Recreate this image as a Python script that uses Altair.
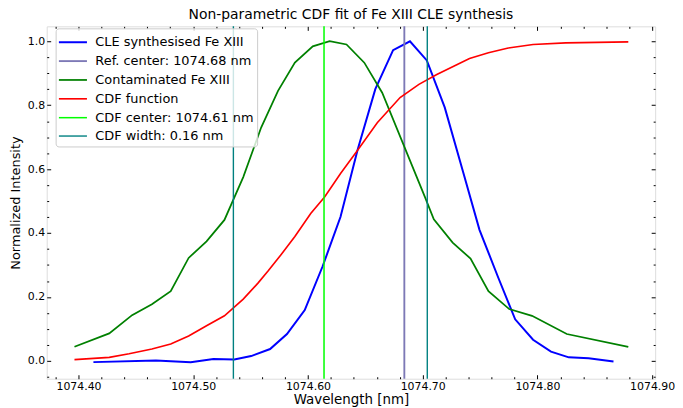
import altair as alt
import pandas as pd

# ---------------- data ----------------
cle_x = [1074.413, 1074.4675, 1074.4978, 1074.5176, 1074.5358, 1074.5505, 1074.567,
         1074.5817, 1074.5972, 1074.6128, 1074.6284, 1074.6431, 1074.6587, 1074.6742,
         1074.6889, 1074.7036, 1074.7192, 1074.7356, 1074.7495, 1074.7659, 1074.7806,
         1074.7962, 1074.8118, 1074.8273, 1074.8446, 1074.8663]
cle_y = [-0.004, 0.001, -0.004, 0.006, 0.004, 0.015, 0.037,
         0.084, 0.159, 0.296, 0.451, 0.658, 0.850, 0.972,
         1.000, 0.940, 0.793, 0.586, 0.410, 0.260, 0.130,
         0.066, 0.029, 0.011, 0.008, -0.002]

cont_x = [1074.3965, 1074.4268, 1074.4467, 1074.4640, 1074.4804, 1074.4960, 1074.5116,
          1074.5272, 1074.5436, 1074.5592, 1074.5739, 1074.5886, 1074.6042, 1074.6189,
          1074.6336, 1074.6491, 1074.6647, 1074.7019, 1074.7097, 1074.7261, 1074.7417,
          1074.7573, 1074.7754, 1074.7953, 1074.8256, 1074.8792]
cont_y = [0.044, 0.086, 0.143, 0.177, 0.218, 0.322, 0.374,
          0.441, 0.575, 0.730, 0.845, 0.933, 0.984, 1.000,
          0.990, 0.933, 0.839, 0.513, 0.443, 0.370, 0.320,
          0.218, 0.162, 0.141, 0.084, 0.044]

cdf_x = [1074.3965, 1074.4268, 1074.4441, 1074.4640, 1074.4804, 1074.4960, 1074.5116,
         1074.5272, 1074.5436, 1074.5566, 1074.5652, 1074.5765, 1074.5886, 1074.6024,
         1074.6145, 1074.6284, 1074.6431, 1074.6604, 1074.6803, 1074.6967, 1074.7123,
         1074.7270, 1074.7408, 1074.7573, 1074.7746, 1074.7962, 1074.8247, 1074.8792]
cdf_y = [0.004, 0.011, 0.022, 0.037, 0.053, 0.078, 0.110,
         0.141, 0.193, 0.244, 0.281, 0.332, 0.389, 0.461,
         0.513, 0.586, 0.658, 0.745, 0.824, 0.865, 0.896,
         0.922, 0.946, 0.964, 0.979, 0.990, 0.995, 0.998]

ref_center = [1074.684]
cdf_center = [1074.614]
cdf_width_edges = [1074.535, 1074.704]

series_names = ["CLE synthesised Fe XIII", "Ref. center: 1074.68 nm",
                "Contaminated Fe XIII", "CDF function",
                "CDF center: 1074.61 nm", "CDF width: 0.16 nm"]
series_colors = ["#0000ff", "#7d79b6", "#008000", "#ff0000", "#00ff00", "#008080"]
series_widths = [2, 1.4, 2, 2, 2, 2]

x_major = [1074.40, 1074.50, 1074.60, 1074.70, 1074.80, 1074.90]
x_minor = [1074.38, 1074.42, 1074.44, 1074.46, 1074.48, 1074.52, 1074.54, 1074.56,
           1074.58, 1074.62, 1074.64, 1074.66, 1074.68, 1074.72, 1074.74, 1074.76,
           1074.78, 1074.82, 1074.84, 1074.86, 1074.88]
y_major = [0.0, 0.2, 0.4, 0.6, 0.8, 1.0]
y_minor = [-0.05, 0.05, 0.1, 0.15, 0.25, 0.3, 0.35, 0.45, 0.5, 0.55, 0.65, 0.7,
           0.75, 0.85, 0.9, 0.95]

x_domain = [1074.3723, 1074.9026]
y_domain = [-0.0559, 1.0466]

# ---------------- tables ----------------
curves = pd.concat([
    pd.DataFrame({"wl": cle_x, "inten": cle_y, "series": series_names[0]}),
    pd.DataFrame({"wl": cont_x, "inten": cont_y, "series": series_names[2]}),
    pd.DataFrame({"wl": cdf_x, "inten": cdf_y, "series": series_names[3]}),
], ignore_index=True)

rules = pd.concat([
    pd.DataFrame({"wl": ref_center, "series": series_names[1]}),
    pd.DataFrame({"wl": cdf_center, "series": series_names[4]}),
    pd.DataFrame({"wl": cdf_width_edges, "series": series_names[5]}),
], ignore_index=True)

FONT = "DejaVu Sans"
xs = alt.Scale(domain=x_domain, nice=False, zero=False)
ys = alt.Scale(domain=y_domain, nice=False, zero=False)

legend = alt.Legend(
    title=None, orient="none", legendX=9, legendY=2,
    symbolType="M-1.1,0H1.8", symbolSize=380, labelFontSize=13, labelFont=FONT,
    labelColor="black", labelOffset=15, rowPadding=1, padding=3,
    fillColor="rgba(255,255,255,0.8)", strokeColor="#cccccc", cornerRadius=3,
)
color_enc = alt.Color("series:N", scale=alt.Scale(domain=series_names, range=series_colors),
                      legend=legend)
width_enc = alt.StrokeWidth("series:N", scale=alt.Scale(domain=series_names, range=series_widths),
                            legend=legend)


def line_layer(name):
    return alt.Chart(curves).transform_filter(
        alt.datum.series == name
    ).mark_line().encode(
        x=alt.X("wl:Q", scale=xs, axis=None),
        y=alt.Y("inten:Q", scale=ys, axis=None),
        color=color_enc, strokeWidth=width_enc,
    )


def rule_layer(name):
    return alt.Chart(rules).transform_filter(
        alt.datum.series == name
    ).mark_rule().encode(
        x=alt.X("wl:Q", scale=xs, axis=None),
        color=color_enc, strokeWidth=width_enc,
    )


def axis_layer(xaxis, yaxis):
    return alt.Chart(curves).mark_point(opacity=0).encode(
        x=alt.X("wl:Q", scale=xs, axis=xaxis),
        y=alt.Y("inten:Q", scale=ys, axis=yaxis),
    )


common = dict(grid=False, domain=False, tickColor="black", tickWidth=1,
              labelFont=FONT, titleFont=FONT, labelColor="black", titleColor="black")

ax_main = axis_layer(
    alt.Axis(orient="bottom", values=x_major, format=".2f", tickSize=4, offset=-4,
             labelFontSize=11, labelPadding=2, title="Wavelength [nm]",
             titleFontSize=13.5, titleFontWeight="normal", titlePadding=1,
             labelFlush=False, labelOverlap=False, **common),
    alt.Axis(orient="left", values=y_major, format=".1f", tickSize=4, offset=-4,
             labelFontSize=11, labelPadding=2, title="Normalized Intensity",
             titleFontSize=13, titleFontWeight="normal", titlePadding=5,
             labelFlush=False, labelOverlap=False, **common),
)
ax_minor = axis_layer(
    alt.Axis(orient="bottom", values=x_minor, tickSize=2, offset=-2, labels=False,
             title=None, **common),
    alt.Axis(orient="left", values=y_minor, tickSize=2, offset=-2, labels=False,
             title=None, **common),
)
ax_top = axis_layer(
    alt.Axis(orient="top", values=x_major, tickSize=4, offset=-4, labels=False,
             title=None, **common),
    alt.Axis(orient="right", values=y_major, tickSize=4, offset=-4, labels=False,
             title=None, **common),
)
ax_top_minor = axis_layer(
    alt.Axis(orient="top", values=x_minor, tickSize=2, offset=-2, labels=False,
             title=None, **common),
    alt.Axis(orient="right", values=y_minor, tickSize=2, offset=-2, labels=False,
             title=None, **common),
)

chart = alt.layer(
    ax_main, ax_minor, ax_top, ax_top_minor,
    line_layer(series_names[0]),
    rule_layer(series_names[1]),
    line_layer(series_names[2]),
    line_layer(series_names[3]),
    rule_layer(series_names[4]),
    rule_layer(series_names[5]),
).resolve_axis(
    x="independent", y="independent"
).properties(
    width=613, height=355,
    title=alt.TitleParams("Non-parametric CDF fit of Fe XIII CLE synthesis",
                          font=FONT, fontSize=14, fontWeight="normal", color="black",
                          anchor="middle", offset=3),
    padding={"left": 39, "top": 17, "right": 20, "bottom": 28},
    autosize=alt.AutoSizeParams(type="none"),
).configure_view(
    stroke="black", strokeWidth=1
).configure(
    font=FONT, background="white"
)

chart.save("out.html", embed_options={"renderer": "svg", "actions": False})
